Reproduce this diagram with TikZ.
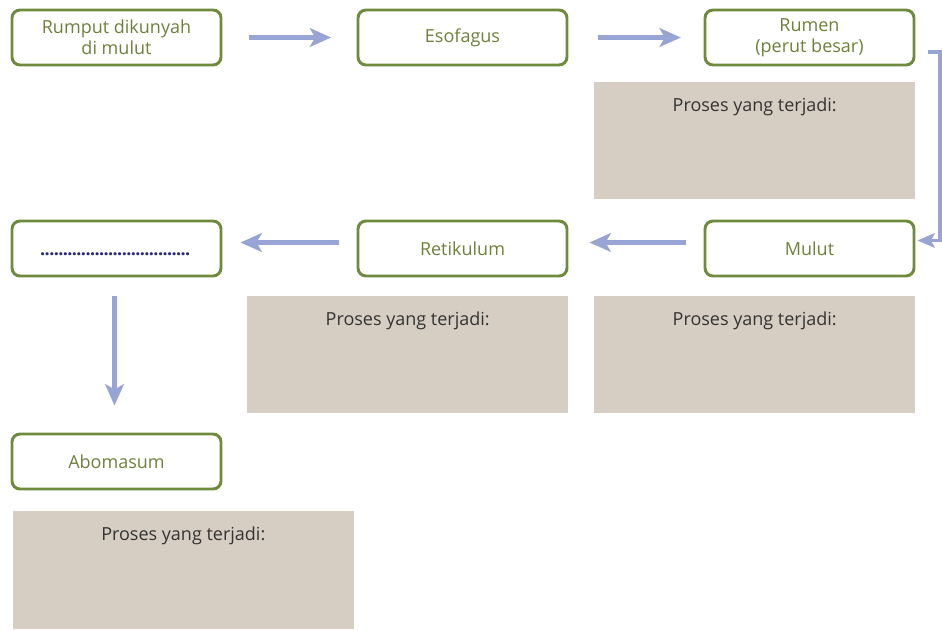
\documentclass[tikz,border=0pt]{standalone}
\usepackage{fontspec}
\setmainfont{Open Sans}
\usepackage{tikz}
\usetikzlibrary{positioning}
\usetikzlibrary{arrows.meta}
\usepackage{xcolor}

\definecolor{organline}{RGB}{110,138,60}
\definecolor{organtext}{RGB}{112,128,58}
\definecolor{flowblue}{RGB}{151,164,212}
\definecolor{procfill}{RGB}{214,206,195}
\definecolor{dotblue}{RGB}{40,40,120}

\begin{document}
\begin{tikzpicture}[
		x=0.75pt, y=-0.75pt,
		% Style definitions for organ boxes and process panels
		organ/.style={draw=organline, line width=2.2pt, rounded corners=6pt, fill=white,
			minimum width=156.75pt, minimum height=41.25pt, text=organtext,
			font=\fontsize{13.5}{15}\selectfont, align=center},
		proses/.style={fill=procfill, minimum width=240.75pt, minimum height=87.75pt,
			label={[anchor=north, yshift=-9pt, font=\fontsize{13.5}{15}\selectfont, text=black!80]north:Proses yang terjadi:}},
		flow/.style={-{Stealth[length=16pt, width=14pt, inset=4pt]}, line width=3.6pt, flowblue},
		elbow/.style={-{Stealth[length=13pt, width=11pt, inset=3pt]}, line width=2.4pt, flowblue},
		node distance=11.25pt,
		]
		\useasboundingbox (0,0) rectangle (942,629);

		% === Row 1: from mouth to rumen ===
		\node[organ] (rumput) at (116.5,37.5) {Rumput dikunyah\\[1pt]di mulut};
		\node[organ] (esofagus) at (462.5,37.5) {Esofagus};
		\node[organ] (rumen) at (809.5,37.5) {Rumen\\[1pt](perut besar)};
		\node[proses, below=of rumen.south east, anchor=north east] (prosesrumen) {};

		% === Row 2: back to the mouth, then reticulum ===
		\node[organ] (kosong) at (116.5,248.5) {\raisebox{-5pt}[0pt][0pt]{\textcolor{dotblue}{\makebox[114pt]{\bfseries\leaders\hbox to 3.4pt{\hss.\hss}\hfill}}}};
		\node[organ] (retikulum) at (462.5,248.5) {Retikulum};
		\node[organ] (mulut) at (809.5,248.5) {Mulut};
		\node[proses, below=13.5pt of retikulum.south east, anchor=north east] (prosesretikulum) {};
		\node[proses, below=13.5pt of mulut.south east, anchor=north east] (prosesmulut) {};

		% === Row 3: abomasum ===
		\node[organ] (abomasum) at (116.5,461.5) {Abomasum};
		\node[proses, minimum width=255.75pt, minimum height=88.5pt,
			below=15pt of abomasum.south west, anchor=north west, xshift=1.5pt] (prosesabomasum) {};

		% === Arrows ===
		\coordinate (belok) at (940,52);
		\draw[flow] ([xshift=20pt]rumput.east) -- ([xshift=-19pt]esofagus.west);
		\draw[flow] ([xshift=22pt]esofagus.east) -- ([xshift=-17pt]rumen.west);
		\draw[elbow] ([shift={(13,14.5)}]rumen.east) -- (belok) |- ([shift={(2,-8)}]mulut.east);
		\draw[flow] ([shift={(-18,-6)}]mulut.west) -- ([shift={(21,-6)}]retikulum.east);
		\draw[flow] ([shift={(-18,-6)}]retikulum.west) -- ([shift={(18,-6)}]kosong.east);
		\draw[flow] ([shift={(-2,19)}]kosong.south) -- ([shift={(-2,-27)}]abomasum.north);

	\end{tikzpicture}
\end{document}
